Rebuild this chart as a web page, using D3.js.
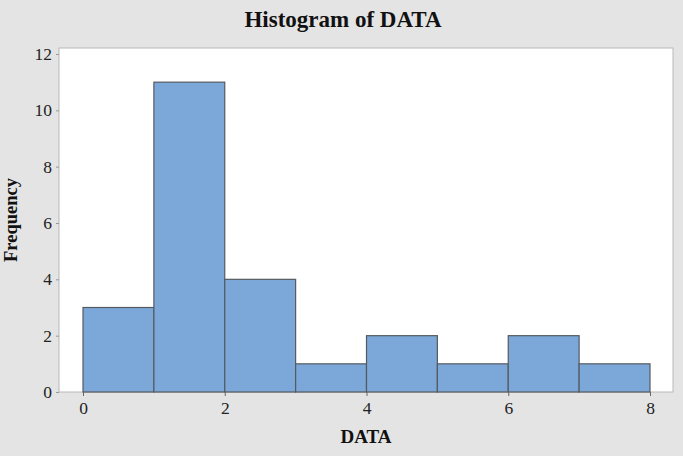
<!DOCTYPE html>
<html><head><meta charset="utf-8">
<script src="https://cdn.jsdelivr.net/npm/d3@7"></script>
<style>body{margin:0;background:#e4e4e4;} svg{display:block;}</style>
</head><body>
<script>
const binStarts = [0,1,2,3,4,5,6,7];
const binEnds   = [1,2,3,4,5,6,7,8];
const counts    = [3,11,4,1,2,1,2,1];
const xTicks = [0,2,4,6,8];
const yTicks = [0,2,4,6,8,10,12];

const W=683,H=456;
const svg=d3.select("body").append("svg").attr("width",W).attr("height",H);
svg.append("rect").attr("width",W).attr("height",H).attr("fill","#e4e4e4");
const plot={l:59,t:48,r:673,b:392};
svg.append("rect").attr("x",plot.l).attr("y",plot.t).attr("width",plot.r-plot.l).attr("height",plot.b-plot.t)
  .attr("fill","#fff").attr("stroke","#b8b8b8").attr("stroke-width",1);
const x=d3.scaleLinear().domain([0,8]).range([83,650]);
const y=d3.scaleLinear().domain([0,12]).range([392,54]);
const font="'Liberation Serif','Times New Roman',serif";

svg.selectAll("rect.bar").data(counts).join("rect").attr("class","bar")
  .attr("x",(d,i)=>x(binStarts[i])).attr("width",(d,i)=>x(binEnds[i])-x(binStarts[i]))
  .attr("y",d=>y(d)).attr("height",d=>y(0)-y(d))
  .attr("fill","#7ba7d9").attr("stroke","#555a60").attr("stroke-width",1.2);

const ya=svg.append("g").attr("transform",`translate(${plot.l},0)`)
  .call(d3.axisLeft(y).tickValues(yTicks).tickSize(3).tickPadding(4));
ya.select(".domain").remove();
ya.selectAll("line").attr("stroke","#999");
ya.selectAll("text").attr("font-family",font).attr("font-size",17.5).attr("fill","#222");

const xa=svg.append("g").attr("transform",`translate(0,${plot.b})`)
  .call(d3.axisBottom(x).tickValues(xTicks).tickSize(4).tickPadding(6));
xa.select(".domain").remove();
xa.selectAll("line").attr("stroke","#666");
xa.selectAll("text").attr("font-family",font).attr("font-size",17.5).attr("fill","#222");

svg.append("text").attr("x",343).attr("y",27).attr("text-anchor","middle")
  .attr("font-family",font).attr("font-weight","bold").attr("font-size",23).attr("fill","#111").text("Histogram of DATA");
svg.append("text").attr("x",366).attr("y",443).attr("text-anchor","middle")
  .attr("font-family",font).attr("font-weight","bold").attr("font-size",19).attr("fill","#111").text("DATA");
svg.append("text").attr("transform","translate(17,220) rotate(-90)").attr("text-anchor","middle")
  .attr("font-family",font).attr("font-weight","bold").attr("font-size",18.5).attr("fill","#111").text("Frequency");
</script>
</body></html>
